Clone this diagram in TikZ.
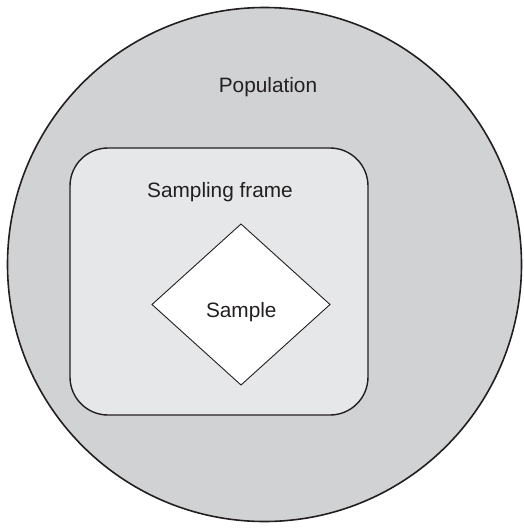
\documentclass[tikz,border=0pt]{standalone}
\usepackage{fontspec}
\setmainfont{Liberation Sans}
\usetikzlibrary{shapes.geometric}
\definecolor{popfill}{HTML}{D1D2D4}
\definecolor{framefill}{HTML}{E6E7E8}
\definecolor{ink}{HTML}{231F20}
\tikzset{
  lbl/.style={text=ink, font=\fontsize{20.8}{24}\selectfont, inner sep=0pt, anchor=base},
}
\begin{document}
\begin{tikzpicture}[x=1pt,y=-1pt]
\useasboundingbox (0,0) rectangle (524,531);
\node[circle, draw=ink, line width=1.6pt, fill=popfill, minimum size=514pt, inner sep=0pt] (pop) at (264.5,264.5) {};
\node[rectangle, rounded corners=38pt, draw=ink, line width=1.4pt, fill=framefill, minimum width=298pt, minimum height=267pt, inner sep=0pt] (frame) at (219,281.5) {};
\draw[ink, line width=0.9pt, fill=white] (241,224) coordinate (dt) -- (330,304.5) coordinate (dr) -- (241,385) coordinate (db) -- (152,304.5) coordinate (dl) -- cycle;
\node[lbl] (poplbl) at (268,92) {Population};
\node[lbl] (framelbl) at (220,197) {Sampling frame};
\node[lbl] (samplbl) at (241.3,317) {Sample};
\end{tikzpicture}
\end{document}
